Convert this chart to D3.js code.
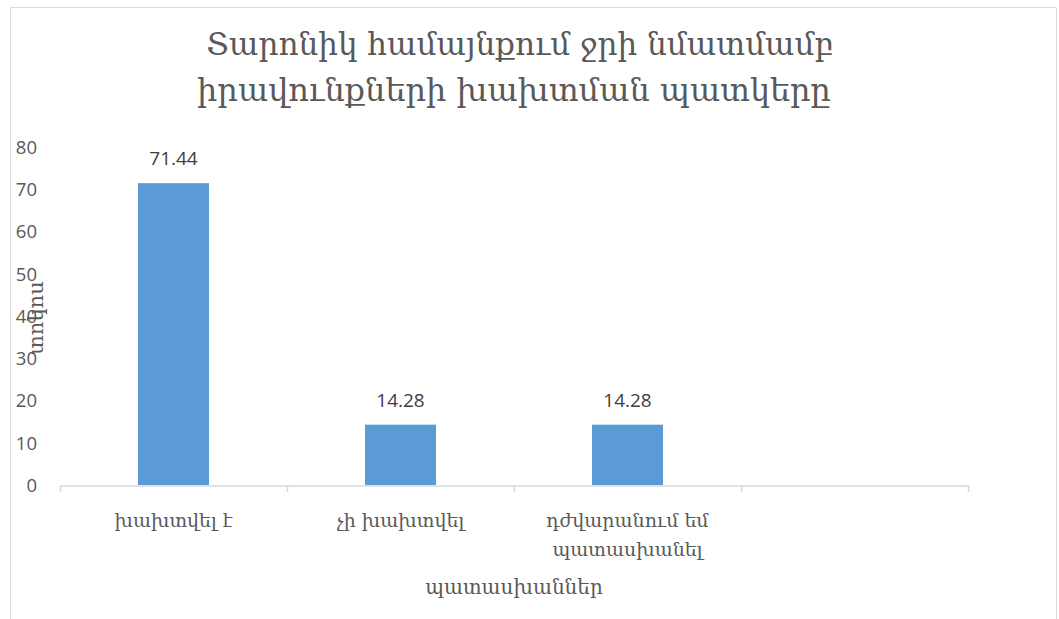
<!DOCTYPE html>
<html><head><meta charset="utf-8">
<script src="https://cdn.jsdelivr.net/npm/d3@7"></script>
<style>html,body{margin:0;padding:0;background:#fff;}</style>
</head><body>
<svg id="c" width="1059" height="619"></svg>
<script>
const titleLines = ["Տարոնիկ համայնքում ջրի նմատմամբ", "իրավունքների խախտման պատկերը"];
const categories = ["խախտվել է", "չի խախտվել", "դժվարանում եմ պատասխանել", ""];
const categoryLines = [["խախտվել է"], ["չի խախտվել"], ["դժվարանում եմ", "պատասխանել"], []];
const values = [71.44, 14.28, 14.28, null];
const valueLabels = ["71.44", "14.28", "14.28", ""];
const yTicks = [0, 10, 20, 30, 40, 50, 60, 70, 80];
const xTitle = "պատասխաններ";
const yTitle = "տոկոս";

const svg = d3.select("#c");
const serif = "'DejaVu Serif', serif";
const sans = "'Open Sans', sans-serif";

// outer border
svg.append("path").attr("d", "M10.5,619 V7.5 H1056.5 V619")
  .attr("fill", "none").attr("stroke", "#d9d9d9").attr("stroke-width", 1);

const x = d3.scaleBand().domain(categories.map((d, i) => i)).range([60, 968]).paddingInner(0).paddingOuter(0);
const y = d3.scaleLinear().domain([0, 80]).range([485, 147]);

// title
function fitText(sel, targetW) {
  const w = sel.node().getComputedTextLength();
  const fs = parseFloat(sel.attr("font-size"));
  sel.attr("font-size", fs * targetW / w);
}
const t1 = svg.append("text").attr("x", 520).attr("y", 55).attr("text-anchor", "middle")
  .attr("font-family", serif).attr("font-size", 30).attr("fill", "#595959").text(titleLines[0]);
fitText(t1, 628);
const t2 = svg.append("text").attr("x", 514).attr("y", 101).attr("text-anchor", "middle")
  .attr("font-family", serif).attr("font-size", 30).attr("fill", "#595959").text(titleLines[1]);
fitText(t2, 634);

// y axis ticks labels
const yAxis = d3.axisLeft(y).tickValues(yTicks).tickSize(0).tickPadding(0);
const gy = svg.append("g").attr("transform", "translate(37,0)").call(yAxis);
gy.select(".domain").remove();
gy.selectAll("text").attr("font-family", sans).attr("font-size", 18.5).attr("fill", "#595959")
  .attr("dy", "0.35em");

// bars
const bw = 71;
svg.append("g").selectAll("rect").data(values.map((v, i) => ({v, i})).filter(d => d.v != null))
  .join("rect")
  .attr("x", d => x(d.i) + x.bandwidth() / 2 - bw / 2)
  .attr("width", bw)
  .attr("y", d => y(d.v))
  .attr("height", d => y(0) - y(d.v))
  .attr("fill", "#5b9bd5");

// value labels
svg.append("g").selectAll("text").data(values.map((v, i) => ({v, i})).filter(d => d.v != null))
  .join("text")
  .attr("x", d => x(d.i) + x.bandwidth() / 2)
  .attr("y", d => y(d.v) - 18)
  .attr("text-anchor", "middle")
  .attr("font-family", sans).attr("font-size", 19).attr("fill", "#404040")
  .text(d => valueLabels[d.i]);

// x axis
const xAxis = d3.axisBottom(x).tickFormat(() => "").tickSize(0);
const gx = svg.append("g").attr("transform", "translate(0,485.5)").call(xAxis);
gx.select(".domain").attr("stroke", "#d9d9d9").attr("stroke-width", 1.5);
gx.selectAll(".tick").remove();
const bounds = categories.map((d, i) => x(i)).concat([x(categories.length - 1) + x.bandwidth()]);
svg.append("g").selectAll("line").data(bounds).join("line")
  .attr("x1", d => Math.round(d) + 0.5).attr("x2", d => Math.round(d) + 0.5)
  .attr("y1", 485).attr("y2", 492).attr("stroke", "#d9d9d9").attr("stroke-width", 1.5);

// category labels
const cl = svg.append("g");
categoryLines.forEach((lines, i) => {
  lines.forEach((ln, j) => {
    cl.append("text")
      .attr("x", x(i) + x.bandwidth() / 2)
      .attr("y", 527 + j * 29)
      .attr("text-anchor", "middle")
      .attr("font-family", serif).attr("font-size", 19).attr("fill", "#595959")
      .text(ln);
  });
});

// axis titles
svg.append("text").attr("x", 514).attr("y", 594).attr("text-anchor", "middle")
  .attr("font-family", serif).attr("font-size", 20).attr("fill", "#595959").text(xTitle);
svg.append("text").attr("transform", "translate(43,318) rotate(-90)").attr("text-anchor", "middle")
  .attr("font-family", serif).attr("font-size", 21).attr("fill", "#595959").text(yTitle);
</script>
</body></html>
